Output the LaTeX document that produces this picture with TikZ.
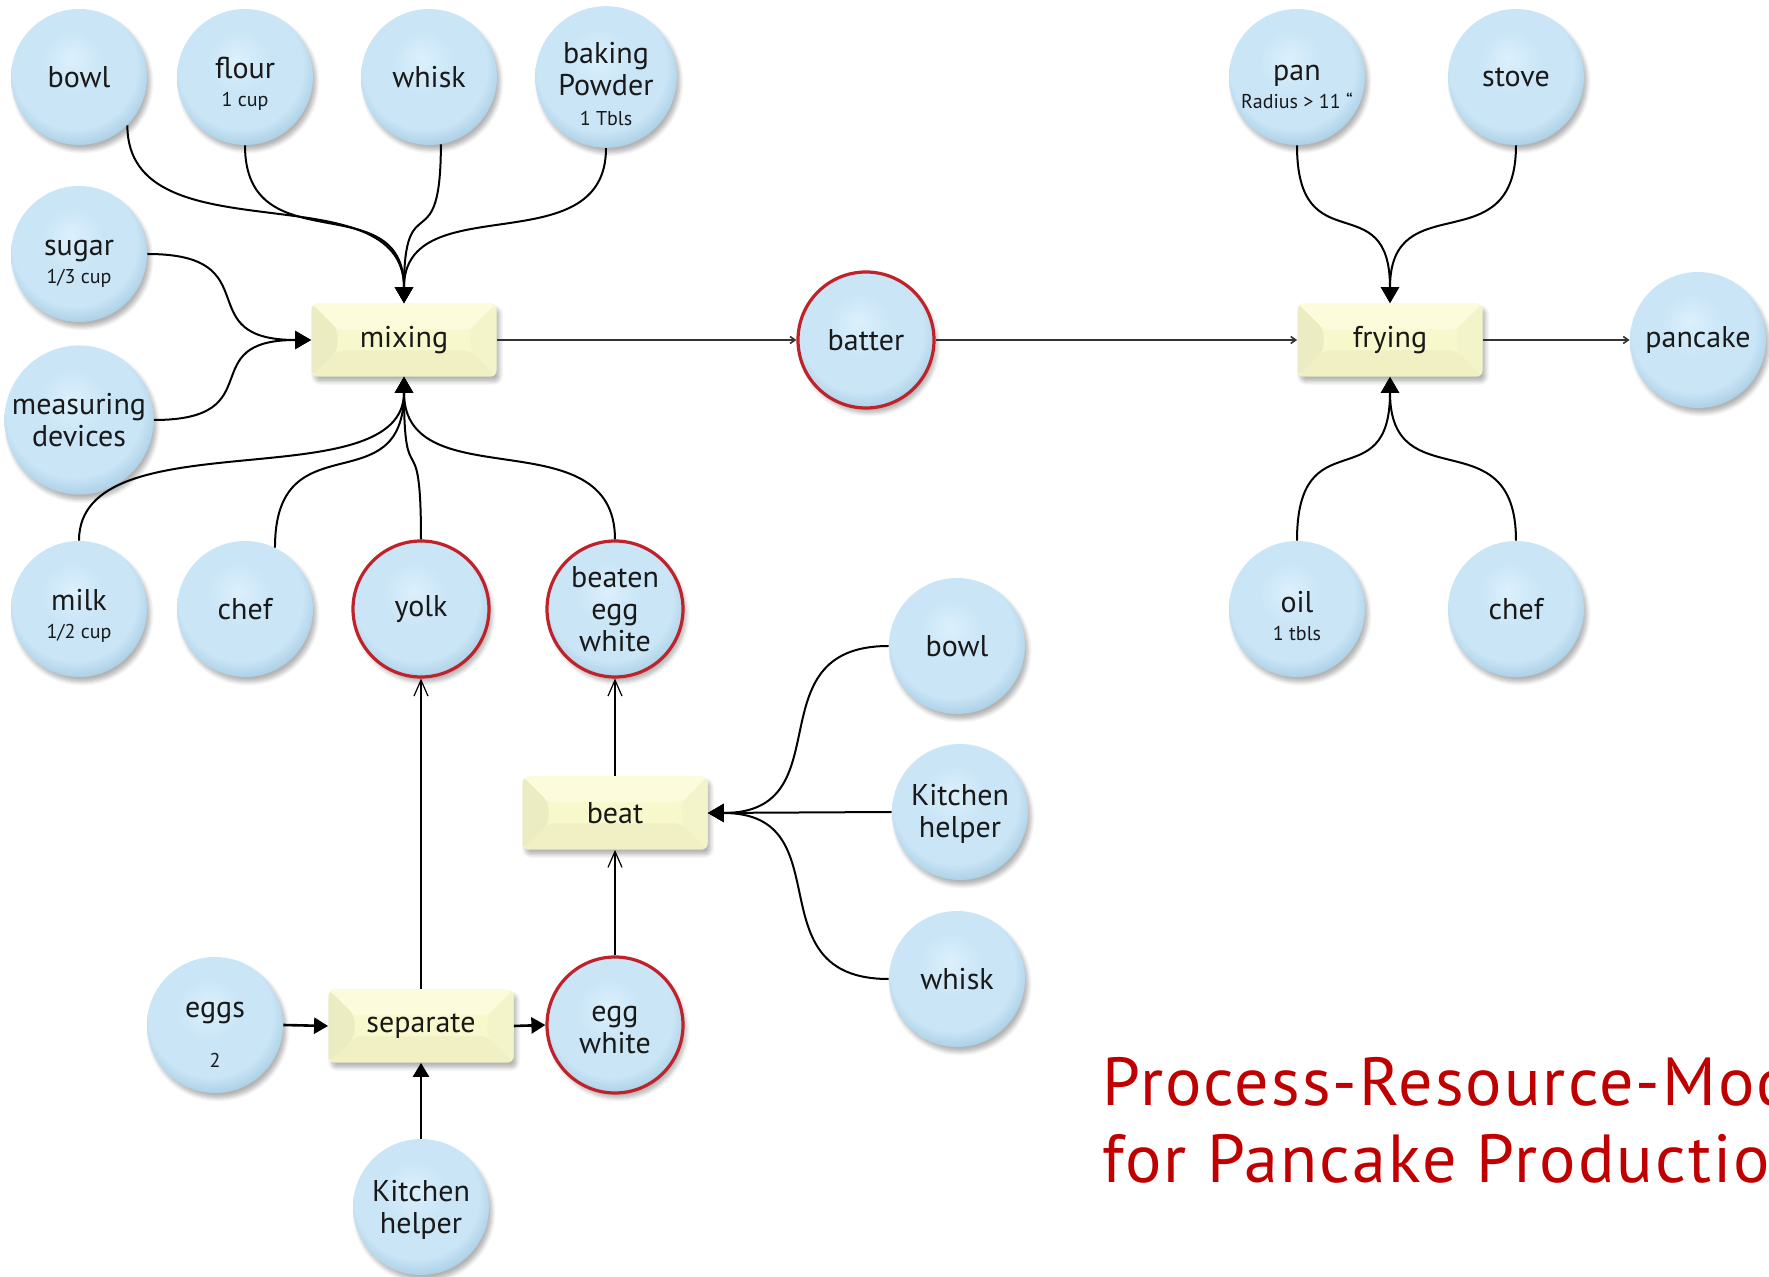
\documentclass[tikz,border=0pt]{standalone}
\usepackage{fontspec}
\setmainfont{PT Sans}
\usetikzlibrary{arrows.meta,shadows.blur,calc}

% palette
\definecolor{bubHi}{HTML}{DCF0FC}
\definecolor{bubMid}{HTML}{C9E5F6}
\definecolor{bubEdge}{HTML}{A9CDE4}
\definecolor{ringRed}{HTML}{C0222A}
\definecolor{procBase}{HTML}{F8F8CD}
\definecolor{procTop}{HTML}{FCFCDC}
\definecolor{procLeft}{HTML}{ECECC2}
\definecolor{procRight}{HTML}{F4F4CA}
\definecolor{procBottom}{HTML}{F0F0C4}
\definecolor{titleRed}{HTML}{C00000}

% soft bubble fill, lit from the top
\pgfdeclareradialshading{bubble}{\pgfpoint{-3bp}{7bp}}{%
  color(0bp)=(bubHi); color(12bp)=(bubMid); color(23bp)=(bubMid);
  color(29bp)=(bubEdge); color(50bp)=(bubEdge)}

% smaller second line (quantities)
\newcommand{\subtxt}[1]{{\fontsize{10}{12}\selectfont #1}}
% pushes a label with a quantity line a little lower in its circle
\newcommand{\lowerstrut}{\rule{0pt}{17.5pt}}
% how far the S-connector handles reach towards the corner point
\newcommand{\bendfrac}{0.76}

\tikzset{
  resource/.style={circle, minimum size=68pt, inner sep=1pt, align=center,
    shading=bubble, text=black!90,
    font=\fontsize{15}{16}\selectfont,
    blur shadow={shadow xshift=1.5pt, shadow yshift=-2.5pt,
                 shadow blur steps=6, shadow opacity=30}},
  product/.style={resource, draw=ringRed, line width=1.6pt},
  process/.style={rectangle, rounded corners=3pt, minimum width=92.5pt,
    minimum height=36.5pt, fill=procBase, text=black!90,
    font=\fontsize{15}{16}\selectfont,
    blur shadow={shadow xshift=1.5pt, shadow yshift=-2.5pt,
                 shadow blur steps=6, shadow opacity=30},
    path picture={
      \def\bv{13pt}
      \fill[procTop] (path picture bounding box.north west) --
        (path picture bounding box.north east) --
        ([xshift=-\bv,yshift=-\bv]path picture bounding box.north east) --
        ([xshift=\bv,yshift=-\bv]path picture bounding box.north west) -- cycle;
      \fill[procBottom] (path picture bounding box.south west) --
        (path picture bounding box.south east) --
        ([xshift=-\bv,yshift=\bv]path picture bounding box.south east) --
        ([xshift=\bv,yshift=\bv]path picture bounding box.south west) -- cycle;
      \fill[procLeft] (path picture bounding box.north west) --
        ([xshift=\bv,yshift=-\bv]path picture bounding box.north west) --
        ([xshift=\bv,yshift=\bv]path picture bounding box.south west) --
        (path picture bounding box.south west) -- cycle;
      \fill[procRight] (path picture bounding box.north east) --
        ([xshift=-\bv,yshift=-\bv]path picture bounding box.north east) --
        ([xshift=-\bv,yshift=\bv]path picture bounding box.south east) --
        (path picture bounding box.south east) -- cycle;
    }},
  % S-shaped connectors: leave vertically / horizontally, nearly flat in the middle
  vcurve/.style={to path={.. controls
      ($(\tikztostart)!\bendfrac!(\tikztostart |- \tikztotarget)$) and
      ($(\tikztotarget)!\bendfrac!(\tikztotarget |- \tikztostart)$) ..
      (\tikztotarget) \tikztonodes}},
  hcurve/.style={to path={.. controls
      ($(\tikztostart)!\bendfrac!(\tikztotarget |- \tikztostart)$) and
      ($(\tikztotarget)!\bendfrac!(\tikztostart |- \tikztotarget)$) ..
      (\tikztotarget) \tikztonodes}},
  feed/.style={line width=1pt, -{Triangle[length=8pt,width=9pt]}},
  input/.style={line width=1.3pt, -{Triangle[length=7pt,width=8pt]}},
  flow/.style={line width=0.8pt, draw=black!80, -{Straight Barb[length=2.5pt,width=3.5pt]}},
  yields/.style={line width=0.6pt, -{Straight Barb[length=8pt,width=7pt]}},
  titletext/.style={text=titleRed, inner sep=0pt,
    font=\fontsize{34}{40}\selectfont\addfontfeatures{LetterSpace=3}}
}

\begin{document}
\begin{tikzpicture}[x=0.5pt, y=-0.5pt]
\useasboundingbox (0,0) rectangle (1769,1277);

% ---- mixing stage ----
\node[resource] (bowlA)   at (79,77)  {bowl};
\node[resource] (flour)   at (245,77) {\lowerstrut flour\\[-2pt]\subtxt{1 cup}};
\node[resource] (whiskA)  at (429,77) {whisk};
\node[resource] (baking)  at (606,77) {\lowerstrut baking\\Powder\\[-1pt]\subtxt{1 Tbls}};
\node[resource] (sugar)   at (79,254) {\lowerstrut sugar\\[-2pt]\subtxt{1/3 cup}};
\node[resource] (measure) at (79,420) {measuring\\devices};
\node[resource] (milk)    at (79,609) {\lowerstrut milk\\[-2pt]\subtxt{1/2 cup}};
\node[resource] (chefA)   at (245,609) {chef};
\node[product]  (yolk)    at (421,609) {yolk};
\node[product]  (beaten)  at (615,609) {beaten\\egg\\white};
\node[process]  (mixing)  at (404,340) {mixing};

% ---- frying stage ----
\node[product]  (batter)  at (866,340) {batter};
\node[process]  (frying)  at (1390,340) {frying};
\node[resource] (pancake) at (1698,340) {pancake};
\node[resource] (pan)     at (1297,77) {\lowerstrut pan\\[-2pt]\subtxt{Radius > 11 “}};
\node[resource] (stove)   at (1516,77) {stove};
\node[resource] (oil)     at (1297,609) {\lowerstrut oil\\[-2pt]\subtxt{1 tbls}};
\node[resource] (chefB)   at (1516,609) {chef};

% ---- egg preparation ----
\node[process]  (beat)     at (615,813) {beat};
\node[resource] (bowlB)    at (957,646) {bowl};
\node[resource] (kitchenA) at (960,812) {\rule{0pt}{13pt}Kitchen\\helper};
\node[resource] (whiskB)   at (957,979) {whisk};
\node[resource] (eggs)     at (215,1025) {\lowerstrut eggs\\[9pt]\subtxt{2}};
\node[process]  (separate) at (421,1026) {separate};
\node[product]  (eggwhite) at (615,1025) {\rule{0pt}{13pt}egg\\white};
\node[resource] (kitchenB) at (421,1207) {\rule{0pt}{13pt}Kitchen\\helper};

% ---- inputs to mixing ----
\draw[feed] (bowlA.-45)  to[vcurve] (mixing.north);
\draw[feed] (flour.-90)  to[vcurve] (mixing.north);
\draw[feed] (whiskA.-80) to[vcurve] (mixing.north);
\draw[feed] (baking.-90) to[vcurve] (mixing.north);
\draw[feed] (sugar.0)    to[hcurve] (mixing.west);
\draw[feed] (measure.0)  to[hcurve] (mixing.west);
\draw[feed] (milk.90)    to[vcurve] (mixing.south);
\draw[feed] (chefA.64)   to[vcurve] (mixing.south);
\draw[feed] (yolk.90)    to[vcurve] (mixing.south);
\draw[feed] (beaten.90)  to[vcurve] (mixing.south);

% ---- main flow ----
\draw[flow] (mixing.east) -- (batter.west);
\draw[flow] (batter.east) -- (frying.west);
\draw[flow] (frying.east) -- (pancake.west);

% ---- inputs to frying ----
\draw[feed] (pan.-90)   to[vcurve] (frying.north);
\draw[feed] (stove.-90) to[vcurve] (frying.north);
\draw[feed] (oil.90)    to[vcurve] (frying.south);
\draw[feed] (chefB.90)  to[vcurve] (frying.south);

% ---- egg preparation flow ----
\draw[input] (eggs.east) -- (separate.west);
\draw[input] (separate.east) -- (eggwhite.west);
\draw[input] (kitchenB.north) -- (separate.south);
\draw[yields] (separate.north) -- (yolk.south);
\draw[yields] (eggwhite.north) -- (beat.south);
\draw[yields] (beat.north) -- (beaten.south);
\draw[feed] (bowlB.180)    to[hcurve] (beat.east);
\draw[feed] (kitchenA.180) -- (beat.east);
\draw[feed] (whiskB.180)   to[hcurve] (beat.east);

% ---- caption ----
\node[titletext, anchor=base west] (titleA) at (1102,1106) {Process-Resource-Model};
\node[titletext, anchor=base west] (titleB) at (1102,1183) {for Pancake Production};
\end{tikzpicture}
\end{document}
